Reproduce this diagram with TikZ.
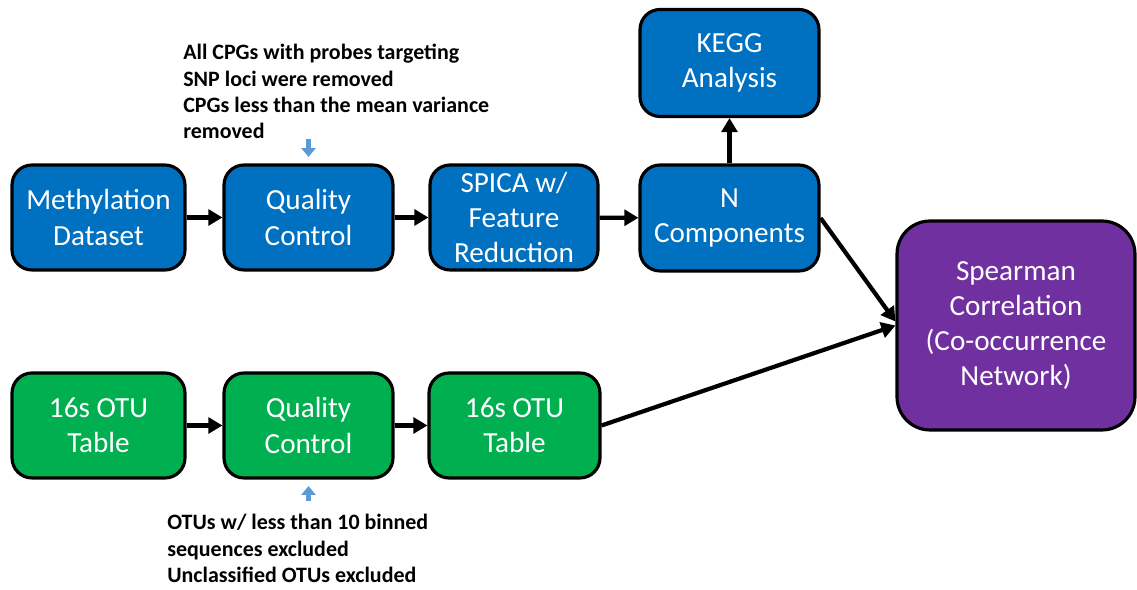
\documentclass[tikz,border=0pt]{standalone}
\usepackage{fontspec}
\setmainfont{Carlito}
\usetikzlibrary{arrows.meta}

\definecolor{boxblue}{HTML}{0070C0}
\definecolor{boxgreen}{HTML}{00B050}
\definecolor{boxpurple}{HTML}{7030A0}
\definecolor{noteblue}{HTML}{5B9BD5}

\tikzset{
	stepbox/.style={draw=black, line width=1.8pt, rounded corners=0.4cm, text=white,
		align=center, inner sep=0pt, minimum width=3.4cm, minimum height=2.1cm,
		font=\fontsize{16.6}{20}\selectfont},
	flow/.style={-{Triangle[length=8pt,width=9pt]}, line width=2.4pt, black},
	notearrow/.style={-{Triangle[length=5pt,width=8pt]}, line width=3pt, noteblue},
	note/.style={align=left, inner sep=0pt, font=\bfseries\fontsize{12.5}{15}\selectfont}
}

\begin{document}
\begin{tikzpicture}[x=0.02cm, y=-0.02cm]
			\useasboundingbox (0,0) rectangle (1137,590);
			
			%methylation row
			\node[stepbox, fill=boxblue, minimum width=3.46cm] (meth) at (98.5, 217.5){Methylation\\Dataset};
			\node[stepbox, fill=boxblue, minimum width=3.38cm] (qcm) at (308.5, 217.5){Quality\\Control};
			\node[stepbox, fill=boxblue, minimum width=3.36cm] (spica) at (514, 217.5){SPICA w/\\Feature\\Reduction};
			\node[stepbox, fill=boxblue, minimum width=3.58cm, minimum height=2.12cm] (ncomp) at (729.5, 218){N\\Components};
			\node[stepbox, fill=boxblue, minimum width=3.58cm, minimum height=2.14cm] (kegg) at (729.5, 63){KEGG\\Analysis};
			
			%otu row
			\node[stepbox, fill=boxgreen, minimum width=3.46cm] (otua) at (98.5, 425.5){16s OTU\\Table};
			\node[stepbox, fill=boxgreen, minimum width=3.38cm] (qco) at (308.5, 425.5){Quality\\Control};
			\node[stepbox, fill=boxgreen, minimum width=3.42cm] (otub) at (514.5, 425.5){16s OTU\\Table};
			
			%correlation
			\node[stepbox, fill=boxpurple, minimum width=4.76cm, minimum height=4.18cm, rounded corners=0.66cm] (spear) at (1016, 325.5){Spearman\\Correlation\\(Co-occurrence\\Network)};
			
			\draw[flow] (meth) -- (qcm);
			\draw[flow] (qcm) -- (spica);
			\draw[flow] (spica) -- (ncomp);
			\draw[flow] (ncomp) -- (kegg);
			\draw[flow] (otua) -- (qco);
			\draw[flow] (qco) -- (otub);
			\draw[flow] (ncomp.east) -- ([yshift=0.08cm]spear.west);
			\draw[flow] (otub.east) -- (spear.west);
			
			%filter notes
			\node[note, anchor=north west] (notem) at (183, 44){All CPGs with probes targeting\\SNP loci were removed\\CPGs less than the mean variance\\removed};
			\coordinate (qcmtop) at (308.5, 139);
			\draw[notearrow, shorten >=0.13cm] (qcmtop) -- (qcm.north);
			
			\node[note, anchor=north west] (noteo) at (167, 514){OTUs w/ less than 10 binned\\sequences excluded\\Unclassified OTUs excluded};
			\coordinate (qcobot) at (308.5, 501);
			\draw[notearrow, shorten >=0.13cm] (qcobot) -- (qco.south);
\end{tikzpicture}
\end{document}
